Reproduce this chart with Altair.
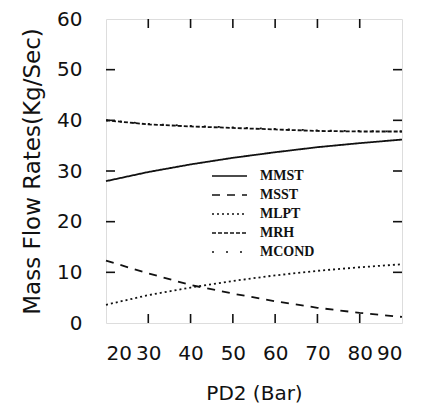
import altair as alt
import pandas as pd

# Data
pd2 = [20, 30, 40, 50, 60, 70, 80, 90]
mmst = [28.0, 29.8, 31.3, 32.6, 33.7, 34.7, 35.5, 36.2]
msst = [12.3, 9.8, 7.5, 5.8, 4.3, 3.0, 2.0, 1.2]
mlpt = [3.6, 5.5, 7.0, 8.3, 9.4, 10.3, 11.0, 11.6]
mrh = [40.0, 39.2, 38.8, 38.5, 38.2, 37.9, 37.8, 37.8]
mcond = [40.0, 39.3, 38.9, 38.6, 38.3, 38.0, 37.9, 37.8]
series_names = ["MMST", "MSST", "MLPT", "MRH", "MCOND"]
dash_styles = [[1, 0], [8, 7], [2, 3], [4, 2], [2, 12]]
x_ticks = [20, 30, 40, 50, 60, 70, 80, 90]
y_ticks = [0, 10, 20, 30, 40, 50, 60]

rows = []
for name, vals in zip(series_names, [mmst, msst, mlpt, mrh, mcond]):
    for x, v in zip(pd2, vals):
        rows.append({"PD2": x, "value": v, "series": name})
df = pd.DataFrame(rows)

W, H = 296, 304
TL = 9
FONT = "DejaVu Sans"

xscale = alt.Scale(domain=[20, 90], nice=False, zero=False)
yscale = alt.Scale(domain=[0, 60], nice=False)

lines = alt.Chart(df).mark_line(strokeWidth=1.8, color="#111").encode(
    x=alt.X("PD2:Q", scale=xscale,
            axis=alt.Axis(title="PD2 (Bar)", values=x_ticks, ticks=False, domain=False,
                          grid=False, labelPadding=20, titlePadding=20,
                          labelFont=FONT, labelFontSize=20, labelFontWeight="normal",
                          titleFont=FONT, titleFontSize=20, titleFontWeight="normal",
                          labelColor="#111", titleColor="#111")),
    y=alt.Y("value:Q", scale=yscale,
            axis=alt.Axis(title="Mass Flow Rates(Kg/Sec)", values=y_ticks, ticks=False,
                          domain=False, grid=False, labelPadding=24, titlePadding=12,
                          labelFont=FONT, labelFontSize=20, labelFontWeight="normal",
                          titleFont=FONT, titleFontSize=23, titleFontWeight="normal",
                          labelColor="#111", titleColor="#111")),
    strokeDash=alt.StrokeDash("series:N",
                              scale=alt.Scale(domain=series_names, range=dash_styles),
                              legend=alt.Legend(title=None, orient="none", legendX=116.5,
                                                legendY=150, symbolType="M-3.5,0H3.5",
                                                symbolSize=100, symbolStrokeWidth=1.6,
                                                symbolStrokeColor="#111",
                                                labelFont="Liberation Serif",
                                                labelFontWeight="bold", labelFontSize=14,
                                                labelColor="#111", labelOffset=23.5,
                                                rowPadding=5, padding=0)),
    detail="series:N",
)

tx = pd.DataFrame({"t": x_ticks[1:-1]})
ty = pd.DataFrame({"t": y_ticks[1:-1]})

bottom = alt.Chart(tx).mark_rule(color="#111", strokeWidth=1.6).encode(
    x=alt.X("t:Q", scale=xscale), y=alt.value(H), y2=alt.value(H - TL))
top = alt.Chart(tx).mark_rule(color="#111", strokeWidth=1.6).encode(
    x=alt.X("t:Q", scale=xscale), y=alt.value(0), y2=alt.value(TL))
left = alt.Chart(ty).mark_rule(color="#111", strokeWidth=1.6).encode(
    y=alt.Y("t:Q", scale=yscale), x=alt.value(0), x2=alt.value(TL))
right = alt.Chart(ty).mark_rule(color="#111", strokeWidth=1.6).encode(
    y=alt.Y("t:Q", scale=yscale), x=alt.value(W), x2=alt.value(W - TL))

chart = alt.layer(lines, bottom, top, left, right).properties(
    width=W, height=H,
    padding={"left": 98, "top": 11, "right": 12, "bottom": 84},
    autosize=alt.AutoSizeParams(type="none"),
).configure_view(stroke="#111", strokeWidth=1.8).configure(background="white")

chart.save("out.html", embed_options={"renderer": "svg", "actions": False})
